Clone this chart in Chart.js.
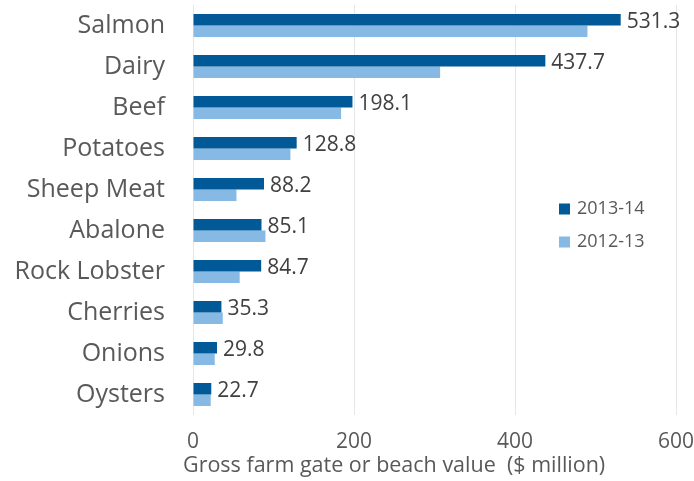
<!DOCTYPE html>
<html>
<head>
<meta charset="utf-8">
<script src="https://cdn.jsdelivr.net/npm/chart.js@4"></script>
<style>
  body { margin: 0; background: #fff; }
  #wrap { width: 694px; height: 481px; }
</style>
</head>
<body>
<div id="wrap"><canvas id="chart"></canvas></div>
<script>
// Chart values
const categories = ['Salmon', 'Dairy', 'Beef', 'Potatoes', 'Sheep Meat', 'Abalone', 'Rock Lobster', 'Cherries', 'Onions', 'Oysters'];
const values2013 = [531.3, 437.7, 198.1, 128.8, 88.2, 85.1, 84.7, 35.3, 29.8, 22.7];
const values2012 = [490, 307, 184, 121, 54, 90, 58, 37, 27, 22];
const seriesNames = ['2013-14', '2012-13'];
const xTicks = [0, 200, 400, 600];
const xTitle = 'Gross farm gate or beach value  ($ million)';

const FONT = '"Open Sans", sans-serif';

// value labels next to the 2013-14 bars
const valueLabels = {
    id: 'valueLabels',
    afterDatasetsDraw(chart) {
        const ctx = chart.ctx;
        const meta = chart.getDatasetMeta(0);
        ctx.save();
        ctx.font = '21px ' + FONT;
        ctx.fillStyle = '#404040';
        ctx.textBaseline = 'middle';
        ctx.textAlign = 'left';
        meta.data.forEach((bar, i) => {
            ctx.fillText(values2013[i].toFixed(1), bar.x + 6, bar.y + 2);
        });
        ctx.restore();
    }
};

// legend inside the plot + axis title (sits a bit left of centre in the original)
const extras = {
    id: 'extras',
    afterDraw(chart) {
        const ctx = chart.ctx;
        ctx.save();
        ctx.font = '18px ' + FONT;
        ctx.textBaseline = 'middle';
        chart.data.datasets.forEach((ds, i) => {
            const y = 209 + i * 33;
            ctx.fillStyle = ds.backgroundColor;
            ctx.fillRect(559, y - 5.5, 11, 11);
            ctx.fillStyle = '#595959';
            ctx.fillText(ds.label, 577, y);
        });
        ctx.font = '21.5px ' + FONT;
        ctx.fillText(xTitle, 183, 466);
        ctx.restore();
    }
};

new Chart(document.getElementById('chart'), {
    type: 'bar',
    data: {
        labels: categories,
        datasets: [
            { label: seriesNames[0], data: values2013, backgroundColor: '#015A97' },
            { label: seriesNames[1], data: values2012, backgroundColor: '#86BAE5' }
        ]
    },
    options: {
        indexAxis: 'y',
        responsive: true,
        maintainAspectRatio: false,
        animation: false,
        layout: { padding: { top: 5, right: 18, left: 0, bottom: 0 } },
        datasets: { bar: { barPercentage: 1, categoryPercentage: 0.56 } },
        plugins: {
            legend: { display: false },
            tooltip: { enabled: false }
        },
        scales: {
            x: {
                min: 0,
                max: 600,
                afterBuildTicks: axis => { axis.ticks = xTicks.map(v => ({ value: v })); },
                afterFit: axis => {
                    axis.height = 66;
                    axis.paddingLeft = 0;
                    axis.paddingRight = 0;
                },
                grid: { color: '#E6E6E6', drawTicks: false },
                border: { display: false },
                ticks: { font: { size: 21, family: FONT }, color: '#595959', padding: 14 }
            },
            y: {
                afterFit: axis => {
                    axis.width = 193;
                    axis.paddingTop = 0;
                    axis.paddingBottom = 0;
                },
                grid: { display: false, drawTicks: false },
                border: { display: false },
                ticks: { font: { size: 25, family: FONT }, color: '#595959', padding: 28 }
            }
        }
    },
    plugins: [valueLabels, extras]
});
</script>
</body>
</html>
